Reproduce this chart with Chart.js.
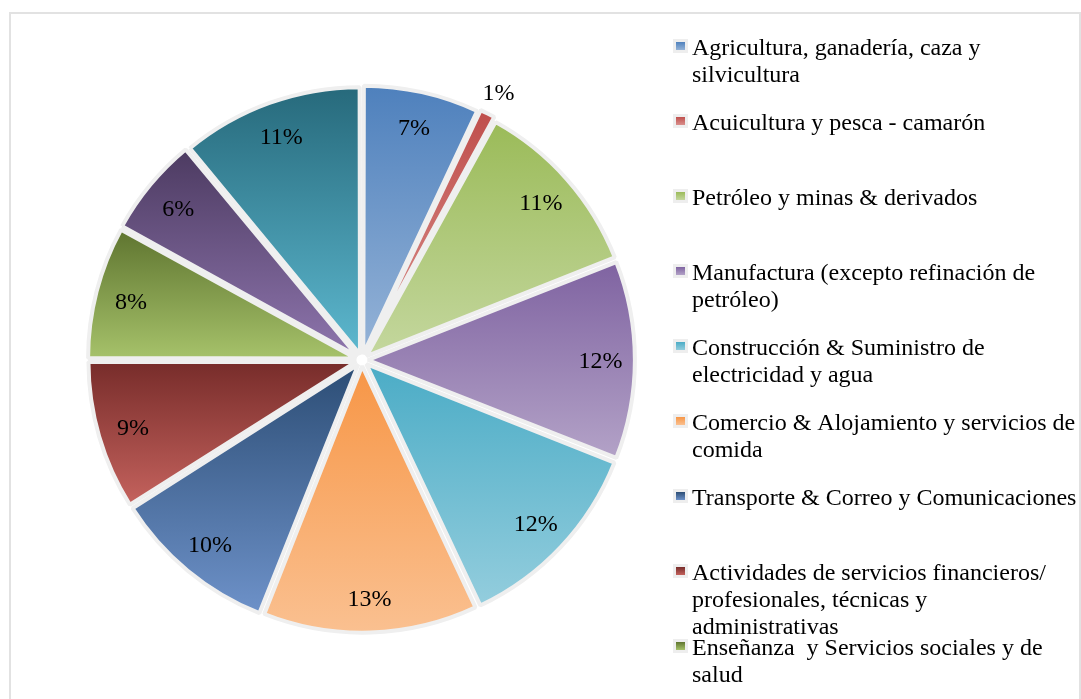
<!DOCTYPE html>
<html>
<head>
<meta charset="utf-8">
<script src="https://cdn.jsdelivr.net/npm/chart.js@4.4.1/dist/chart.umd.min.js"></script>
<style>
  html, body { margin: 0; padding: 0; background: #fff; }
  #frame { position: absolute; left: 9px; top: 12px; width: 1072px; height: 720px;
           border: 2px solid #e2e2e2; box-sizing: border-box; }
  #wrap { position: absolute; left: 0; top: 0; width: 1081px; height: 699px; }
</style>
</head>
<body>
<div id="frame"></div>
<div id="wrap"><canvas id="pieChart" width="1081" height="699"></canvas></div>
<script>
const labels = [
  "Agricultura, ganadería, caza y silvicultura",
  "Acuicultura y pesca - camarón",
  "Petróleo y minas & derivados",
  "Manufactura (excepto refinación de petróleo)",
  "Construcción & Suministro de electricidad y agua",
  "Comercio & Alojamiento y servicios de comida",
  "Transporte & Correo y Comunicaciones",
  "Actividades de servicios financieros/ profesionales, técnicas y administrativas",
  "Enseñanza  y Servicios sociales y de salud",
  "Administración pública y defensa",
  "Otros servicios"
];
const values = [7, 1, 11, 12, 12, 13, 10, 9, 8, 6, 11];

// top (dark) and bottom (light) colour of each slice gradient
const topColors = ["#4f81bd", "#c0504d", "#9bbb59", "#7f63a1", "#4bacc6", "#f79646",
                   "#2c4d75", "#772c2a", "#5f7530", "#4d3b62", "#276a7c"];
const bottomColors = ["#95b3d7", "#d98f8c", "#c4d79e", "#b3a2c7", "#93cddd", "#fac090",
                      "#6d91c8", "#c4625d", "#a6c26a", "#8e75ad", "#5db8cf"];

const FONT = '24px "Liberation Serif", "Times New Roman", serif';

function sliceGradient(context) {
  const i = context.dataIndex;
  const el = context.element;
  if (!el || el.x == null || el.outerRadius == null) return topColors[i];
  const {x, y, startAngle, endAngle, outerRadius} = el;
  let ys = [y, y + outerRadius * Math.sin(startAngle), y + outerRadius * Math.sin(endAngle)];
  [-Math.PI / 2, Math.PI / 2, 3 * Math.PI / 2].forEach(a => {
    if (a >= startAngle && a <= endAngle) ys.push(y + outerRadius * Math.sin(a));
  });
  const y0 = Math.min(...ys), y1 = Math.max(...ys);
  const g = context.chart.ctx.createLinearGradient(0, y0, 0, y1 > y0 ? y1 : y0 + 1);
  g.addColorStop(0, topColors[i]);
  g.addColorStop(1, bottomColors[i]);
  return g;
}

function wrapText(ctx, text, maxWidth) {
  const words = text.split(' ');
  const lines = [];
  let line = '';
  words.forEach(w => {
    const test = line === '' ? w : line + ' ' + w;
    if (ctx.measureText(test).width > maxWidth && line !== '') {
      lines.push(line);
      line = w;
    } else {
      line = test;
    }
  });
  lines.push(line);
  return lines;
}

const sliceLabels = {
  id: 'sliceLabels',
  afterDatasetsDraw(chart) {
    const ctx = chart.ctx;
    const total = values.reduce((a, b) => a + b, 0);
    ctx.save();
    ctx.font = FONT;
    ctx.fillStyle = '#000';
    ctx.textAlign = 'center';
    ctx.textBaseline = 'alphabetic';
    chart.getDatasetMeta(0).data.forEach((arc, i) => {
      const {x, y, startAngle, endAngle, outerRadius} = arc;
      const mid = (startAngle + endAngle) / 2;
      const r = values[i] / total < 0.02 ? outerRadius * 1.135 : outerRadius * 0.9;
      const txt = Math.round(values[i] / total * 100) + '%';
      ctx.fillText(txt, x + Math.cos(mid) * r, y + Math.sin(mid) * r + 8);
    });
    ctx.restore();
  }
};

const sideLegend = {
  id: 'sideLegend',
  afterDraw(chart) {
    const ctx = chart.ctx;
    ctx.save();
    ctx.font = FONT;
    ctx.textAlign = 'left';
    ctx.textBaseline = 'alphabetic';
    labels.forEach((lab, i) => {
      const base = 55 + 75 * i;
      ctx.fillStyle = '#eeeeee';
      ctx.fillRect(673, base - 16, 15, 14);
      const g = ctx.createLinearGradient(0, base - 13, 0, base - 5);
      g.addColorStop(0, topColors[i]);
      g.addColorStop(1, bottomColors[i]);
      ctx.fillStyle = g;
      ctx.fillRect(676, base - 13, 9, 8);
      ctx.fillStyle = '#000';
      wrapText(ctx, lab, 386).forEach((ln, k) => ctx.fillText(ln, 692, base + 27 * k));
    });
    ctx.restore();
  }
};

const chart = new Chart(document.getElementById('pieChart'), {
  type: 'pie',
  data: {
    labels,
    datasets: [{
      data: values,
      backgroundColor: sliceGradient,
      borderColor: '#efefef',
      borderWidth: 4,
      offset: 24,
      radius: 265
    }]
  },
  options: {
    responsive: false,
    animation: false,
    layout: { padding: { left: 0, right: 357, top: 21, bottom: 0 } },
    plugins: {
      legend: { display: false },
      tooltip: { enabled: false }
    }
  },
  plugins: [sliceLabels, sideLegend]
});
chart.update();
</script>
</body>
</html>
